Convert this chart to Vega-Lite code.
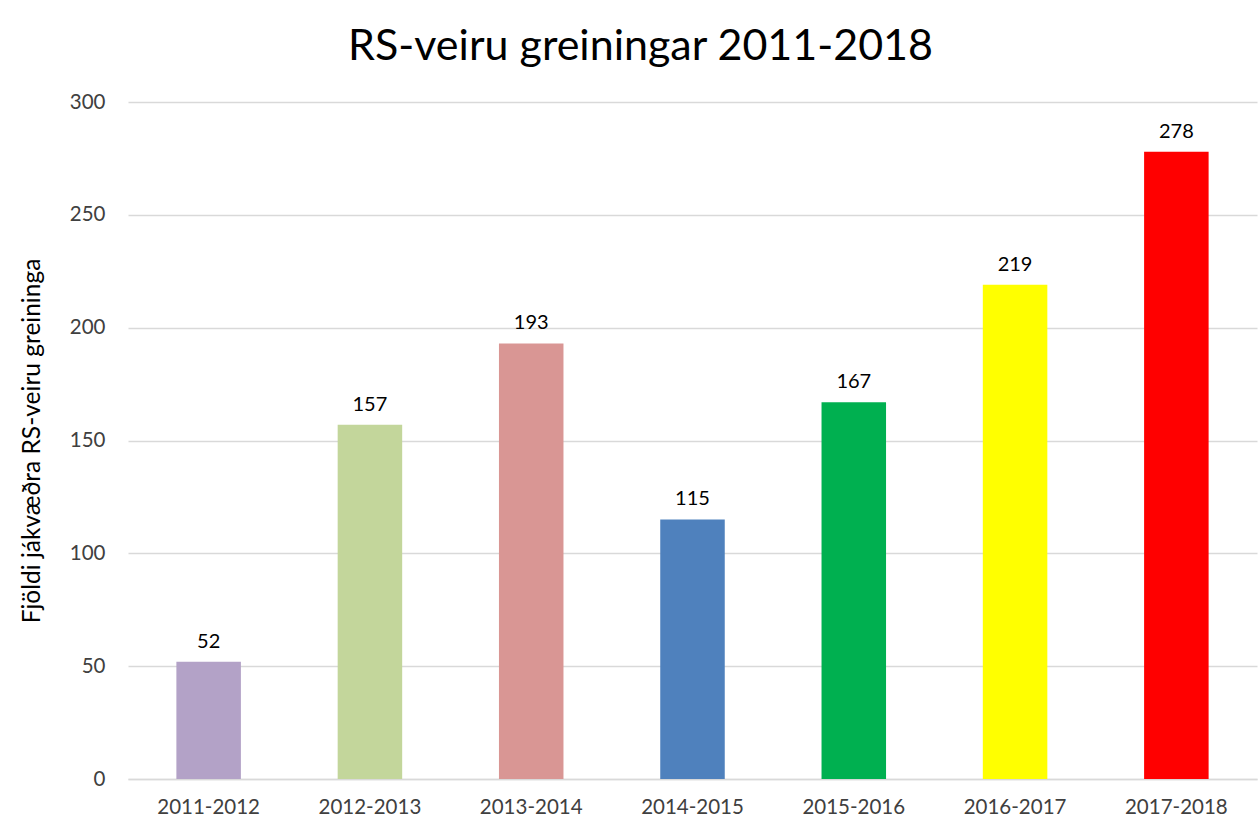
{
  "$schema": "https://vega.github.io/schema/vega-lite/v6.json",
  "autosize": "none",
  "width": 1129,
  "height": 677,
  "padding": {"left": 128, "top": 102, "right": 1, "bottom": 49},
  "background": "white",
  "config": {
    "font": "Lato",
    "view": {"stroke": null}
  },
  "title": {
    "text": "RS-veiru greiningar 2011-2018",
    "fontSize": 43,
    "fontWeight": "normal",
    "color": "#000000",
    "anchor": "middle",
    "frame": "group",
    "dx": -52,
    "offset": 23
  },
  "data": {
    "values": [
      {"season": "2011-2012", "count": 52, "color": "#B3A2C7"},
      {"season": "2012-2013", "count": 157, "color": "#C3D69B"},
      {"season": "2013-2014", "count": 193, "color": "#D99694"},
      {"season": "2014-2015", "count": 115, "color": "#4F81BD"},
      {"season": "2015-2016", "count": 167, "color": "#00B050"},
      {"season": "2016-2017", "count": 219, "color": "#FFFF00"},
      {"season": "2017-2018", "count": 278, "color": "#FF0000"}
    ]
  },
  "encoding": {
    "x": {
      "field": "season",
      "type": "nominal",
      "sort": null,
      "scale": {"paddingInner": 0.6, "paddingOuter": 0.3},
      "axis": {
        "title": null,
        "labelAngle": 0,
        "labelFontSize": 20.5,
        "labelColor": "#404040",
        "labelPadding": 18,
        "ticks": false,
        "domainColor": "#D9D9D9",
        "domainWidth": 1.5
      }
    },
    "y": {
      "field": "count",
      "type": "quantitative",
      "scale": {"domain": [0, 300]},
      "axis": {
        "title": "Fjöldi jákvæðra RS-veiru greininga",
        "titleFontSize": 24.5,
        "titleFontWeight": "normal",
        "titleColor": "#000000",
        "titlePadding": 25,
        "values": [0, 50, 100, 150, 200, 250, 300],
        "labelFontSize": 20.5,
        "labelColor": "#404040",
        "labelPadding": 23,
        "ticks": false,
        "domain": false,
        "gridColor": "#D9D9D9",
        "gridWidth": 1.5
      }
    }
  },
  "layer": [
    {
      "mark": {"type": "bar"},
      "encoding": {
        "color": {"field": "color", "type": "nominal", "scale": null}
      }
    },
    {
      "mark": {"type": "text", "baseline": "bottom", "dy": -10, "fontSize": 20, "color": "#000000"},
      "encoding": {
        "text": {"field": "count", "type": "quantitative"}
      }
    }
  ]
}
